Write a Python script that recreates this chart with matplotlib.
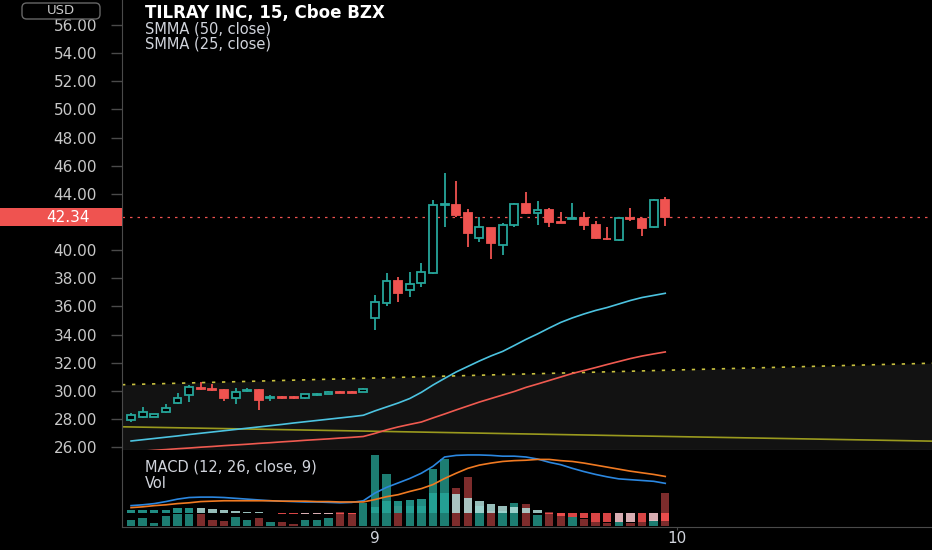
import numpy as np
import matplotlib.pyplot as plt
import matplotlib.transforms as mtransforms
from matplotlib.patches import Rectangle, FancyBboxPatch

# OHLC, 15 minute bars (index 0..46), day "9" starts at index 21
opens = [27.93, 28.17, 28.17, 28.47, 29.11, 29.70, 30.20, 30.10, 30.06, 29.47,
         29.98, 30.06, 29.50, 29.54, 29.54, 29.50, 29.68, 29.78, 29.92, 29.92,
         29.90, 35.16, 36.26, 37.80, 37.17, 37.64, 38.40, 43.20, 43.21, 42.62,
         40.88, 41.55, 40.36, 41.78, 43.28, 42.62, 42.85, 42.00, 42.22, 42.30,
         41.78, 40.82, 40.72, 42.25, 42.21, 41.67, 43.56]
highs = [28.40, 28.87, 28.38, 29.04, 29.82, 30.41, 30.65, 30.47, 30.10, 30.18,
         30.18, 30.10, 29.70, 29.60, 29.60, 29.80, 29.82, 30.00, 30.00, 30.00,
         30.18, 36.81, 38.39, 38.07, 38.47, 39.06, 43.56, 45.45, 44.93, 42.92,
         42.38, 41.55, 41.90, 43.37, 44.15, 43.51, 42.97, 42.73, 43.35, 42.73,
         42.09, 41.62, 42.35, 42.97, 42.30, 43.66, 43.75]
lows = [27.80, 28.10, 28.12, 28.44, 29.08, 29.23, 30.05, 29.98, 29.30, 29.04,
        29.92, 28.64, 29.30, 29.45, 29.45, 29.45, 29.62, 29.75, 29.82, 29.82,
        29.88, 34.32, 36.03, 36.33, 36.69, 37.36, 38.30, 41.67, 42.38, 40.20,
        40.56, 39.35, 39.65, 41.62, 42.60, 41.78, 41.62, 41.90, 42.19, 41.43,
        40.79, 40.72, 40.65, 42.09, 41.00, 41.60, 41.71]
closes = [28.28, 28.52, 28.33, 28.76, 29.47, 30.29, 30.12, 30.02, 29.47, 29.94,
          30.05, 29.35, 29.54, 29.50, 29.50, 29.77, 29.78, 29.92, 29.88, 29.88,
          30.13, 36.33, 37.80, 36.97, 37.57, 38.47, 43.21, 43.30, 42.50, 41.20,
          41.62, 40.48, 41.78, 43.28, 42.62, 42.85, 42.02, 41.95, 42.28, 41.78,
          40.88, 40.77, 42.26, 42.18, 41.55, 43.56, 42.34]

smma50 = [26.43, 26.52, 26.61, 26.70, 26.79, 26.89, 26.98, 27.07, 27.16, 27.25,
          27.34, 27.43, 27.52, 27.61, 27.71, 27.80, 27.89, 27.98, 28.07, 28.16,
          28.26, 28.57, 28.85, 29.13, 29.45, 29.89, 30.41, 30.88, 31.34, 31.73,
          32.12, 32.48, 32.80, 33.22, 33.65, 34.04, 34.46, 34.86, 35.18, 35.46,
          35.71, 35.92, 36.17, 36.42, 36.63, 36.78, 36.93]
smma25 = [25.66, 25.71, 25.77, 25.82, 25.88, 25.93, 25.99, 26.04, 26.10, 26.15,
          26.20, 26.26, 26.31, 26.37, 26.42, 26.48, 26.53, 26.58, 26.64, 26.69,
          26.75, 26.97, 27.22, 27.43, 27.61, 27.78, 28.07, 28.35, 28.64, 28.92,
          29.20, 29.45, 29.70, 29.95, 30.24, 30.48, 30.73, 30.98, 31.23, 31.44,
          31.65, 31.87, 32.08, 32.29, 32.47, 32.62, 32.76]

# volume in thousands of shares
volume = [142, 208, 83, 243, 300, 300, 308, 143, 118, 225,
          158, 200, 100, 100, 58, 143, 143, 200, 350, 333,
          583, 1768, 1308, 500, 500, 500, 1418, 1668, 950, 1218,
          500, 375, 375, 575, 543, 283, 343, 325, 225, 183,
          100, 83, 100, 83, 100, 143, 833]

macd = [0.19, 0.21, 0.24, 0.29, 0.35, 0.39, 0.40, 0.40, 0.39, 0.37,
        0.35, 0.33, 0.31, 0.30, 0.29, 0.28, 0.28, 0.27, 0.26, 0.27,
        0.31, 0.50, 0.64, 0.75, 0.86, 0.99, 1.16, 1.39, 1.43, 1.44,
        1.44, 1.43, 1.41, 1.41, 1.39, 1.34, 1.26, 1.20, 1.11, 1.03,
        0.96, 0.90, 0.85, 0.83, 0.81, 0.79, 0.74]
signal = [0.14, 0.16, 0.19, 0.21, 0.24, 0.26, 0.29, 0.30, 0.31, 0.31,
          0.31, 0.31, 0.31, 0.30, 0.30, 0.30, 0.29, 0.29, 0.28, 0.28,
          0.28, 0.34, 0.41, 0.46, 0.54, 0.61, 0.71, 0.86, 0.99, 1.11,
          1.19, 1.24, 1.28, 1.30, 1.31, 1.33, 1.33, 1.30, 1.28, 1.24,
          1.19, 1.14, 1.09, 1.04, 1.00, 0.96, 0.91]
hist = [0.07, 0.075, 0.078, 0.082, 0.13, 0.14, 0.135, 0.105, 0.08, 0.055,
        0.04, 0.035, 0.013, -0.015, -0.022, -0.021, -0.02, -0.019, -0.023, -0.025,
        0.02, 0.16, 0.30, 0.31, 0.33, 0.35, 0.49, 0.50, 0.47, 0.39,
        0.31, 0.22, 0.17, 0.165, 0.12, 0.07, -0.01, -0.06, -0.08, -0.12,
        -0.21, -0.22, -0.21, -0.205, -0.21, -0.18, -0.185]

last_price = 42.34
price_ticks = list(range(26, 57, 2))
day_ticks = [21, 47]
day_labels = ['9', '10']

# drawings on the chart (anchors at left / right edge)
edge_x = [-0.78, 68.97]
channel_top = [30.43, 31.96]
trend_line = [27.44, 26.42]

UP = '#26a69a'
DN = '#ef5350'
TXT = '#d1d4dc'
GRID = '#4a4a4a'

x = np.arange(len(closes))
o = np.array(opens)
c = np.array(closes)
up = c >= o

fig = plt.figure(figsize=(9.32, 5.5), dpi=100, facecolor='black')
ax = fig.add_axes([122 / 932, 100 / 550, 810 / 932, 450 / 550], facecolor='black')
ax.set_xlim(edge_x)
ax.set_ylim(25.79, 57.78)

# channel + trend drawings
ax.fill_between(edge_x, channel_top, [25.0, 25.0], color='#121212', lw=0, zorder=0)
ax.plot(edge_x, channel_top, color='#c8c040', lw=1.2, ls=(0, (2, 4)), zorder=1)
ax.plot(edge_x, trend_line, color='#9a9a1e', lw=1.2, zorder=1)

# SMMAs
ax.plot(x, smma50, color='#4cc3e0', lw=1.2, zorder=2)
ax.plot(x, smma25, color='#f05a50', lw=1.2, zorder=2)

# candles
ccol = np.where(up, UP, DN)
ax.vlines(x, lows, highs, colors=ccol, lw=1.3, zorder=3)
body = c - o
body = np.where(np.abs(body) < 0.05, np.where(up, 0.05, -0.05), body)
ax.bar(x, body, bottom=o, width=0.68, color=np.where(up, 'black', DN),
       edgecolor=ccol, linewidth=1.3, zorder=4)

ax.axhline(last_price, color=DN, lw=0.9, ls=(0, (2, 4)), zorder=2)

ax.set_yticks(price_ticks)
# the 42.00 label sits under the last price tag
ax.set_yticklabels(['' if t == 42 else '%.2f' % t for t in price_ticks])
ax.tick_params(axis='y', direction='out', length=8, width=1, color=GRID,
               labelcolor='#c8c8c8', labelsize=11, pad=10)
ax.tick_params(axis='x', bottom=False, labelbottom=False)
for s in ['top', 'right']:
    ax.spines[s].set_visible(False)
ax.spines['left'].set_color(GRID)
ax.spines['bottom'].set_color(GRID)

# last price tag on the scale
blend = mtransforms.blended_transform_factory(fig.transFigure, ax.transData)
fig.add_artist(Rectangle((0, last_price - 0.64), 122 / 932, 1.28, transform=blend,
                         facecolor=DN, edgecolor='none', zorder=5))
fig.add_artist(plt.Text(68 / 932, last_price, '%.2f' % last_price, transform=blend,
                        color='white', fontsize=11, ha='center', va='center', zorder=6))

# currency box
fig.add_artist(FancyBboxPatch((22 / 932, 1 - 19 / 550), 78 / 932, 16 / 550,
                              boxstyle='round,pad=0,rounding_size=0.005',
                              mutation_aspect=1.7, transform=fig.transFigure,
                              facecolor='black', edgecolor='#666666', lw=1, zorder=5))
fig.text(61 / 932, 1 - 11 / 550, 'USD', color='#c8c8c8', fontsize=9.5,
         ha='center', va='center', zorder=6)

# legend texts
fig.text(145 / 932, 1 - 13 / 550, 'TILRAY INC, 15, Cboe BZX', color='white',
         fontsize=12, fontweight='bold', va='center')
fig.text(145 / 932, 1 - 29 / 550, 'SMMA (50, close)', color=TXT, fontsize=10.5, va='center')
fig.text(145 / 932, 1 - 44 / 550, 'SMMA (25, close)', color=TXT, fontsize=10.5, va='center')

# lower pane: volume + MACD
axv = fig.add_axes([122 / 932, 23 / 550, 810 / 932, 77 / 550], facecolor='black')
axv.set_xlim(edge_x)
axv.set_ylim(-25, 1900)
axv.bar(x, volume, width=0.72, color=np.where(up, '#1d7d72', '#7d2c2c'), lw=0)
axv.set_yticks([])
axv.set_xticks(day_ticks)
axv.set_xticklabels(day_labels)
axv.tick_params(axis='x', length=2, color=GRID, labelcolor=TXT, labelsize=11, pad=1)
for s in ['top', 'right']:
    axv.spines[s].set_visible(False)
axv.spines['left'].set_color(GRID)
axv.spines['bottom'].set_color(GRID)

axm = axv.twinx()
axm.set_ylim(-0.3375, 1.5625)
h = np.array(hist)
prev = np.concatenate([[h[0] - 1e-3], h[:-1]])
hcol = np.where(h >= 0, np.where(h >= prev, '#26a69a', '#b2dfdb'),
                np.where(h < prev, '#ff5252', '#ffcdd2'))
axm.bar(x, h, width=0.72, color=hcol, alpha=0.85, lw=0)
axm.plot(x, macd, color='#2b87e0', lw=1.2)
axm.plot(x, signal, color='#f07a22', lw=1.2)
axm.set_yticks([])
for s in axm.spines.values():
    s.set_visible(False)

fig.text(145 / 932, 1 - 467 / 550, 'MACD (12, 26, close, 9)', color=TXT, fontsize=10.5, va='center')
fig.text(145 / 932, 1 - 484 / 550, 'Vol', color=TXT, fontsize=10.5, va='center')

fig.savefig('out.png', dpi=100, facecolor='black')
